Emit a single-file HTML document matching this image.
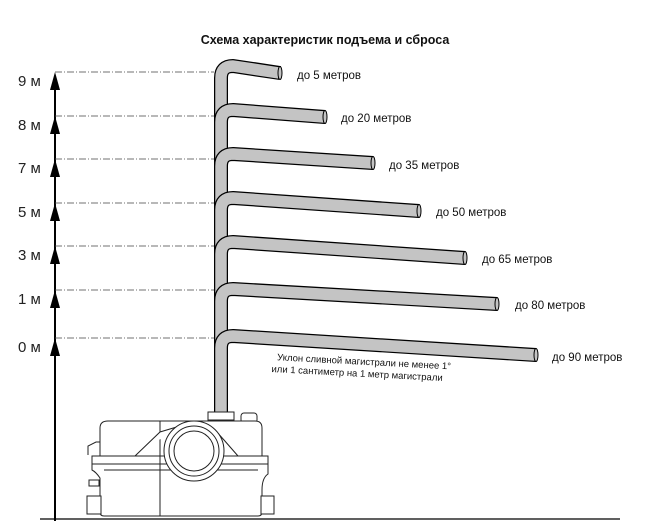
<!DOCTYPE html>
<html><head><meta charset="utf-8"><style>
html,body{margin:0;padding:0;background:#fff;}
svg{display:block;font-family:"Liberation Sans",sans-serif;}
</style></head><body>
<svg width="651" height="521" viewBox="0 0 651 521" xmlns="http://www.w3.org/2000/svg">
<text x="325" y="44" text-anchor="middle" font-size="12.5" font-weight="bold" fill="#111">Схема характеристик подъема и сброса</text>
<line x1="55" y1="80" x2="55" y2="521" stroke="#000" stroke-width="2"/>
<g fill="#000">
<polygon points="55,72 50,90 60,90"/>
<polygon points="55,116 50,134 60,134"/>
<polygon points="55,159 50,177 60,177"/>
<polygon points="55,203 50,221 60,221"/>
<polygon points="55,246 50,264 60,264"/>
<polygon points="55,290 50,308 60,308"/>
<polygon points="55,338 50,356 60,356"/>
</g>
<g stroke="#444" stroke-width="0.8" stroke-dasharray="7,2,1,2" fill="none">
<line x1="55" y1="72" x2="214" y2="72"/>
<line x1="55" y1="116" x2="214" y2="116"/>
<line x1="55" y1="159" x2="214" y2="159"/>
<line x1="55" y1="203" x2="214" y2="203"/>
<line x1="55" y1="246" x2="214" y2="246"/>
<line x1="55" y1="290" x2="214" y2="290"/>
<line x1="55" y1="338" x2="214" y2="338"/>
</g>
<g font-size="15" fill="#222">
<text x="18" y="86">9 м</text>
<text x="18" y="130">8 м</text>
<text x="18" y="173">7 м</text>
<text x="18" y="217">5 м</text>
<text x="18" y="260">3 м</text>
<text x="18" y="304">1 м</text>
<text x="18" y="352">0 м</text>
</g>
<g fill="none" stroke-linecap="butt" stroke-linejoin="round">
<path stroke="#000" stroke-width="14" d="M221 125 L221 78 Q221 66 233 66 L280 73"/>
<path stroke="#c4c4c4" stroke-width="11.5" d="M221 125 L221 78 Q221 66 233 66 L279 73"/>
<path stroke="#000" stroke-width="14" d="M221 169 L221 122 Q221 110 233 110 L325 117"/>
<path stroke="#c4c4c4" stroke-width="11.5" d="M221 169 L221 122 Q221 110 233 110 L324 117"/>
<path stroke="#000" stroke-width="14" d="M221 213 L221 166 Q221 154 233 154 L373 163"/>
<path stroke="#c4c4c4" stroke-width="11.5" d="M221 213 L221 166 Q221 154 233 154 L372 163"/>
<path stroke="#000" stroke-width="14" d="M221 257 L221 210 Q221 198 233 198 L419 211"/>
<path stroke="#c4c4c4" stroke-width="11.5" d="M221 257 L221 210 Q221 198 233 198 L418 211"/>
<path stroke="#000" stroke-width="14" d="M221 304 L221 254 Q221 242 233 242 L465 258"/>
<path stroke="#c4c4c4" stroke-width="11.5" d="M221 304 L221 254 Q221 242 233 242 L464 258"/>
<path stroke="#000" stroke-width="14" d="M221 351 L221 301 Q221 289 233 289 L497 304"/>
<path stroke="#c4c4c4" stroke-width="11.5" d="M221 351 L221 301 Q221 289 233 289 L496 304"/>
<path stroke="#000" stroke-width="14" d="M221 412 L221 348 Q221 336 233 336 L536 355"/>
<path stroke="#c4c4c4" stroke-width="11.5" d="M221 412 L221 348 Q221 336 233 336 L535 355"/>
</g>
<g fill="#c4c4c4" stroke="#000" stroke-width="1">
<ellipse cx="280" cy="73" rx="2" ry="6.5"/>
<ellipse cx="325" cy="117" rx="2" ry="6.5"/>
<ellipse cx="373" cy="163" rx="2" ry="6.5"/>
<ellipse cx="419" cy="211" rx="2" ry="6.5"/>
<ellipse cx="465" cy="258" rx="2" ry="6.5"/>
<ellipse cx="497" cy="304" rx="2" ry="6.5"/>
<ellipse cx="536" cy="355" rx="2" ry="6.5"/>
</g>
<g font-size="11.5" fill="#111">
<text x="297" y="79">до 5 метров</text>
<text x="341" y="122">до 20 метров</text>
<text x="389" y="169">до 35 метров</text>
<text x="436" y="216">до 50 метров</text>
<text x="482" y="263">до 65 метров</text>
<text x="515" y="309">до 80 метров</text>
<text x="552" y="361">до 90 метров</text>
</g>
<g font-size="9.5" fill="#111" transform="rotate(3 272 360)">
<text x="277" y="360">Уклон сливной магистрали не менее 1°</text>
<text x="272" y="372">или 1 сантиметр на 1 метр магистрали</text>
</g>
<g fill="#fff" stroke="#222" stroke-width="1">
<rect x="208" y="412" width="26" height="8"/>
<rect x="241" y="413" width="16" height="10" rx="3"/>
<path d="M100 456 L100 428 Q100 421 108 421 L255 421 Q262 421 262 428 L262 456 Z"/>
<rect x="92" y="456" width="176" height="8"/>
<path d="M92 464 L268 464 L268 474 Q262 478 262 490 L262 512 Q262 516 258 516 L104 516 Q100 516 100 512 L100 478 Q96 472 92 470 Z"/>
<rect x="87" y="496" width="14" height="18"/>
<rect x="261" y="496" width="13" height="18"/>
<rect x="89" y="480" width="10" height="6"/>
<path d="M88 455 L88 446 L96 442 L100 442"/>
<line x1="160" y1="421" x2="160" y2="516"/>
<line x1="104" y1="470" x2="258" y2="470"/>
<path d="M135 456 L160 432 L180 426"/>
<path d="M238 456 L224 440 L215 430"/>
<circle cx="194" cy="451" r="30"/>
<circle cx="194" cy="451" r="25"/>
<circle cx="194" cy="451" r="20"/>
</g>
<line x1="40" y1="519" x2="620" y2="519" stroke="#000" stroke-width="1.2"/>
</svg>
</body></html>
